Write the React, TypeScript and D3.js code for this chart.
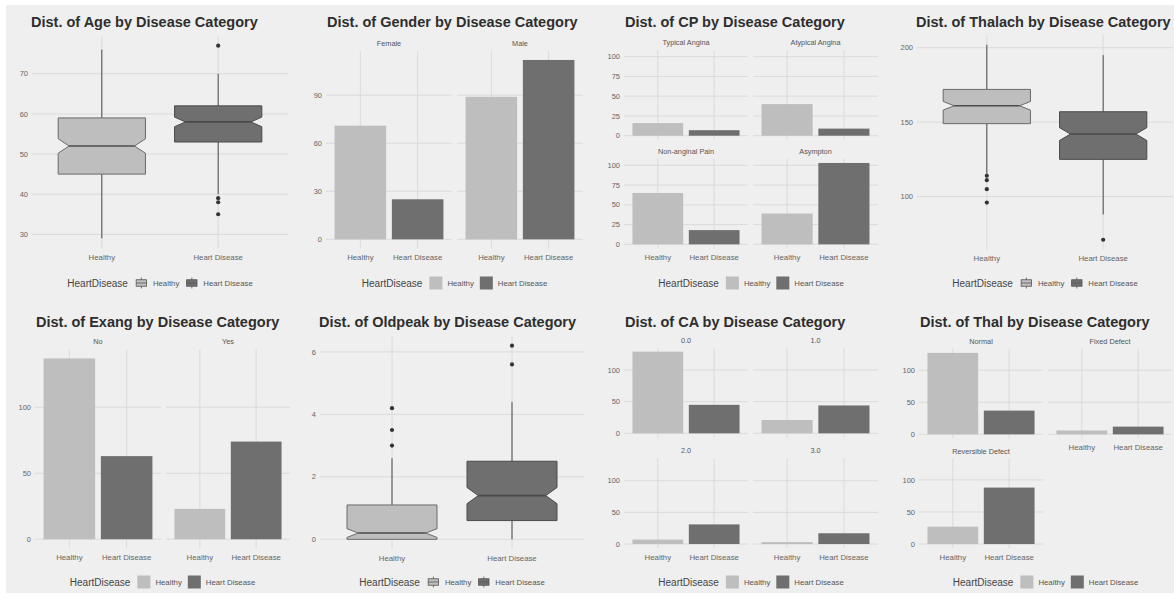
import React, { useEffect, useRef } from "react";
import * as d3 from "d3";

const W = 1174;
const H = 602;
const BG = "#efefef";
const GRID = "#d8d8d8";
const FONT = "'Liberation Sans', Arial, sans-serif";

const groups = ["Healthy", "Heart Disease"];
const fills = ["#bebebe", "#6f6f6f"];

// box stats per group: [lower whisker, q1, median, q3, upper whisker]
const ageStats = [[29, 45, 52, 59, 76], [40, 53, 58, 62, 70]];
const ageNotches = [[50.2, 53.8], [56.8, 59.2]];
const ageOutliers = [[], [77, 39, 38, 35]];
const ageTicks = [30, 40, 50, 60, 70];

const thalachStats = [[115, 149, 161, 172, 202], [88, 125, 142, 157, 195]];
const thalachNotches = [[158.1, 163.9], [137.7, 146.3]];
const thalachOutliers = [[114, 111, 105, 96], [71]];
const thalachTicks = [100, 150, 200];

const oldpeakStats = [[0, 0, 0.2, 1.1, 2.6], [0, 0.6, 1.4, 2.5, 4.4]];
const oldpeakNotches = [[0.06, 0.34], [1.14, 1.66]];
const oldpeakOutliers = [[3.0, 3.5, 4.2], [5.6, 6.2]];
const oldpeakTicks = [0, 2, 4, 6];

// counts per level: [Healthy, Heart Disease]
const genderLevels = ["Female", "Male"];
const genderCounts = [[71, 25], [89, 112]];
const genderTicks = [0, 30, 60, 90];

const cpLevels = ["Typical Angina", "Atypical Angina", "Non-anginal Pain", "Asympton"];
const cpCounts = [[16, 7], [40, 9], [65, 18], [39, 103]];
const cpTicks = [0, 25, 50, 75, 100];

const exangLevels = ["No", "Yes"];
const exangCounts = [[137, 63], [23, 74]];
const exangTicks = [0, 50, 100];

const caLevels = ["0.0", "1.0", "2.0", "3.0"];
const caCounts = [[129, 45], [21, 44], [7, 31], [3, 17]];
const caTicks = [0, 50, 100];

const thalLevels = ["Normal", "Fixed Defect", "Reversible Defect"];
const thalCounts = [[127, 37], [6, 12], [27, 88]];
const thalTicks = [0, 50, 100];

const boxCharts = [
  { title: "Dist. of Age by Disease Category", stats: ageStats, notches: ageNotches, outliers: ageOutliers, ticks: ageTicks, x: [32, 288], y: [36, 248], titleY: 27, legendY: 283 },
  { title: "Dist. of Thalach by Disease Category", stats: thalachStats, notches: thalachNotches, outliers: thalachOutliers, ticks: thalachTicks, x: [917, 1173], y: [35, 249.5], titleY: 27, legendY: 283 },
  { title: "Dist. of Oldpeak by Disease Category", stats: oldpeakStats, notches: oldpeakNotches, outliers: oldpeakOutliers, ticks: oldpeakTicks, x: [320, 584], y: [336, 549], titleY: 327, legendY: 582 },
];

const colL = (a: number, b: number) => [a, b];
const barCharts = [
  {
    title: "Dist. of Gender by Disease Category", levels: genderLevels, counts: genderCounts, ticks: genderTicks, titleY: 27, legendY: 283,
    facets: [
      { x: colL(326, 452), y: colL(51, 248.3), showY: true, showX: true },
      { x: colL(457, 583), y: colL(51, 248.3), showY: false, showX: true },
    ],
  },
  {
    title: "Dist. of CP by Disease Category", levels: cpLevels, counts: cpCounts, ticks: cpTicks, titleY: 27, legendY: 283,
    facets: [
      { x: colL(624, 748), y: colL(50.2, 139.8), showY: true, showX: false },
      { x: colL(753, 878), y: colL(50.2, 139.8), showY: false, showX: false },
      { x: colL(624, 748), y: colL(158.9, 248.4), showY: true, showX: true },
      { x: colL(753, 878), y: colL(158.9, 248.4), showY: false, showX: true },
    ],
  },
  {
    title: "Dist. of Exang by Disease Category", levels: exangLevels, counts: exangCounts, ticks: exangTicks, titleY: 327, legendY: 582,
    facets: [
      { x: colL(35, 161), y: colL(349.4, 548.3), showY: true, showX: true },
      { x: colL(166, 290), y: colL(349.4, 548.3), showY: false, showX: true },
    ],
  },
  {
    title: "Dist. of CA by Disease Category", levels: caLevels, counts: caCounts, ticks: caTicks, titleY: 327, legendY: 582,
    facets: [
      { x: colL(624, 748), y: colL(347.6, 437.4), showY: true, showX: false },
      { x: colL(753, 878), y: colL(347.6, 437.4), showY: false, showX: false },
      { x: colL(624, 748), y: colL(458.3, 548.1), showY: true, showX: true },
      { x: colL(753, 878), y: colL(458.3, 548.1), showY: false, showX: true },
    ],
  },
  {
    title: "Dist. of Thal by Disease Category", levels: thalLevels, counts: thalCounts, ticks: thalTicks, titleY: 327, legendY: 582,
    facets: [
      { x: colL(919, 1043), y: colL(348.8, 438.4), showY: true, showX: false },
      { x: colL(1048, 1172), y: colL(348.8, 438.4), showY: false, showX: true },
      { x: colL(919, 1043), y: colL(458.5, 548.1), showY: true, showX: true },
    ],
  },
];

function drawPanelGrid(g: any, xs: any, y: any, ticks: number[], x0: number, x1: number, showY: boolean) {
  const [yb, yt] = y.range();
  g.selectAll(null).data(ticks).enter().append("line")
    .attr("x1", x0).attr("x2", x1).attr("y1", (d: number) => y(d)).attr("y2", (d: number) => y(d))
    .attr("stroke", GRID).attr("stroke-width", 0.9);
  g.selectAll(null).data(groups).enter().append("line")
    .attr("x1", (d: string) => xs(d)).attr("x2", (d: string) => xs(d)).attr("y1", yt).attr("y2", yb)
    .attr("stroke", GRID).attr("stroke-width", 0.9);
  if (showY) {
    g.selectAll(null).data(ticks).enter().append("text")
      .attr("x", x0 - 4).attr("y", (d: number) => y(d)).attr("dy", "0.35em")
      .attr("text-anchor", "end").attr("font-size", 7.5).attr("fill", "#666").text((d: number) => d);
  }
}

function drawXLabels(g: any, xs: any, yb: number) {
  g.selectAll(null).data(groups).enter().append("text")
    .attr("x", (d: string) => xs(d)).attr("y", yb + 11.5).attr("text-anchor", "middle")
    .attr("font-size", 7.8).attr("fill", "#666").text((d: string) => d);
}

function drawTitle(svg: any, text: string, x: number, y: number) {
  svg.append("text").attr("x", x).attr("y", y).attr("font-size", 14.5).attr("font-weight", "bold")
    .attr("fill", "#2e2e2e").text(text);
}

function drawLegend(svg: any, cx: number, cy: number, glyph: string) {
  const g = svg.append("g");
  const title = g.append("text").attr("x", 0).attr("y", cy).attr("dy", "0.35em")
    .attr("font-size", 10).attr("fill", "#444").text("HeartDisease");
  let pos = title.node().getComputedTextLength() + 7;
  groups.forEach((grp, i) => {
    const k = 13;
    const ky = cy - k / 2;
    if (glyph === "box") {
      g.append("line").attr("x1", pos + k / 2).attr("x2", pos + k / 2).attr("y1", ky + 1).attr("y2", ky + k - 1)
        .attr("stroke", "#555").attr("stroke-width", 0.8);
      g.append("rect").attr("x", pos + 1.3).attr("y", ky + k * 0.25).attr("width", k - 2.6).attr("height", k * 0.5)
        .attr("fill", fills[i]).attr("stroke", "#555").attr("stroke-width", 0.8);
      g.append("line").attr("x1", pos + 1.3).attr("x2", pos + k - 1.3).attr("y1", cy).attr("y2", cy)
        .attr("stroke", "#555").attr("stroke-width", 0.8);
    } else {
      g.append("rect").attr("x", pos).attr("y", ky).attr("width", k).attr("height", k).attr("fill", fills[i]);
    }
    pos += k + 5;
    const lab = g.append("text").attr("x", pos).attr("y", cy).attr("dy", "0.35em")
      .attr("font-size", 7.8).attr("fill", "#555").text(grp);
    pos += lab.node().getComputedTextLength() + 6;
  });
  const total = pos - 6;
  g.attr("transform", `translate(${cx - total / 2},0)`);
}

function drawBoxChart(svg: any, c: any) {
  const g = svg.append("g");
  const all = c.stats.flat().concat(c.outliers.flat());
  const lo = d3.min(all) as number;
  const hi = d3.max(all) as number;
  const pad = (hi - lo) * 0.05;
  const y = d3.scaleLinear().domain([lo - pad, hi + pad]).range([c.y[1], c.y[0]]);
  const xs = d3.scalePoint().domain(groups).range(c.x).padding(0.6);
  drawPanelGrid(g, xs, y, c.ticks, c.x[0], c.x[1], true);
  const bw = xs.step() * 0.75;
  const ind = bw * 0.125;
  groups.forEach((grp, i) => {
    const [wl, q1, med, q3, wh] = c.stats[i];
    const [nl, nu] = c.notches[i];
    const cx = xs(grp) as number;
    const xl = cx - bw / 2;
    const xr = cx + bw / 2;
    g.append("line").attr("x1", cx).attr("x2", cx).attr("y1", y(q3)).attr("y2", y(wh))
      .attr("stroke", "#4a4a4a").attr("stroke-width", 1);
    g.append("line").attr("x1", cx).attr("x2", cx).attr("y1", y(q1)).attr("y2", y(wl))
      .attr("stroke", "#4a4a4a").attr("stroke-width", 1);
    const pts: [number, number][] = [
      [xl, y(q3)], [xl, y(nu)], [xl + ind, y(med)], [xl, y(nl)], [xl, y(q1)],
      [xr, y(q1)], [xr, y(nl)], [xr - ind, y(med)], [xr, y(nu)], [xr, y(q3)],
    ];
    g.append("path").attr("d", d3.line()(pts) + "Z").attr("fill", fills[i])
      .attr("stroke", i === 0 ? "#6a6a6a" : "#4a4a4a").attr("stroke-width", 1);
    g.append("line").attr("x1", xl + ind).attr("x2", xr - ind).attr("y1", y(med)).attr("y2", y(med))
      .attr("stroke", "#4a4a4a").attr("stroke-width", 1.6);
    g.selectAll(null).data(c.outliers[i]).enter().append("circle")
      .attr("cx", cx).attr("cy", (d: number) => y(d)).attr("r", 2.1).attr("fill", "#333");
  });
  drawXLabels(g, xs, c.y[1]);
  drawTitle(svg, c.title, c.x[0] - 1, c.titleY);
  drawLegend(svg, (c.x[0] + c.x[1]) / 2, c.legendY, "box");
}

function drawBarChart(svg: any, c: any) {
  const g = svg.append("g");
  const hi = d3.max(c.counts.flat()) as number;
  c.facets.forEach((f: any, i: number) => {
    const y = d3.scaleLinear().domain([-hi * 0.05, hi * 1.05]).range([f.y[1], f.y[0]]);
    const xs = d3.scalePoint().domain(groups).range(f.x).padding(0.6);
    drawPanelGrid(g, xs, y, c.ticks, f.x[0], f.x[1], f.showY);
    const bw = xs.step() * 0.9;
    g.selectAll(null).data(c.counts[i]).enter().append("rect")
      .attr("x", (_: number, j: number) => (xs(groups[j]) as number) - bw / 2)
      .attr("y", (d: number) => y(d)).attr("width", bw)
      .attr("height", (d: number) => y(0) - y(d))
      .attr("fill", (_: number, j: number) => fills[j]);
    g.append("text").attr("x", (f.x[0] + f.x[1]) / 2).attr("y", f.y[0] - 7.5).attr("dy", "0.35em")
      .attr("text-anchor", "middle").attr("font-size", 7.3).attr("fill", "#555").text(c.levels[i]);
    if (f.showX) drawXLabels(g, xs, f.y[1]);
  });
  const x0 = d3.min(c.facets, (f: any) => f.x[0]) as number;
  const x1 = d3.max(c.facets, (f: any) => f.x[1]) as number;
  drawTitle(svg, c.title, x0 + 1, c.titleY);
  drawLegend(svg, (x0 + x1) / 2, c.legendY, "bar");
}

export default function App() {
  const ref = useRef<SVGSVGElement>(null);
  useEffect(() => {
    const svg = d3.select(ref.current);
    svg.selectAll("*").remove();
    svg.append("rect").attr("x", 6).attr("y", 5).attr("width", W - 6).attr("height", 588).attr("fill", BG);
    boxCharts.forEach((c) => drawBoxChart(svg, c));
    barCharts.forEach((c) => drawBarChart(svg, c));
  }, []);
  return (
    <svg ref={ref} width={W} height={H}
      style={{ position: "absolute", left: 0, top: 0, fontFamily: FONT, background: "#fff" }} />
  );
}
